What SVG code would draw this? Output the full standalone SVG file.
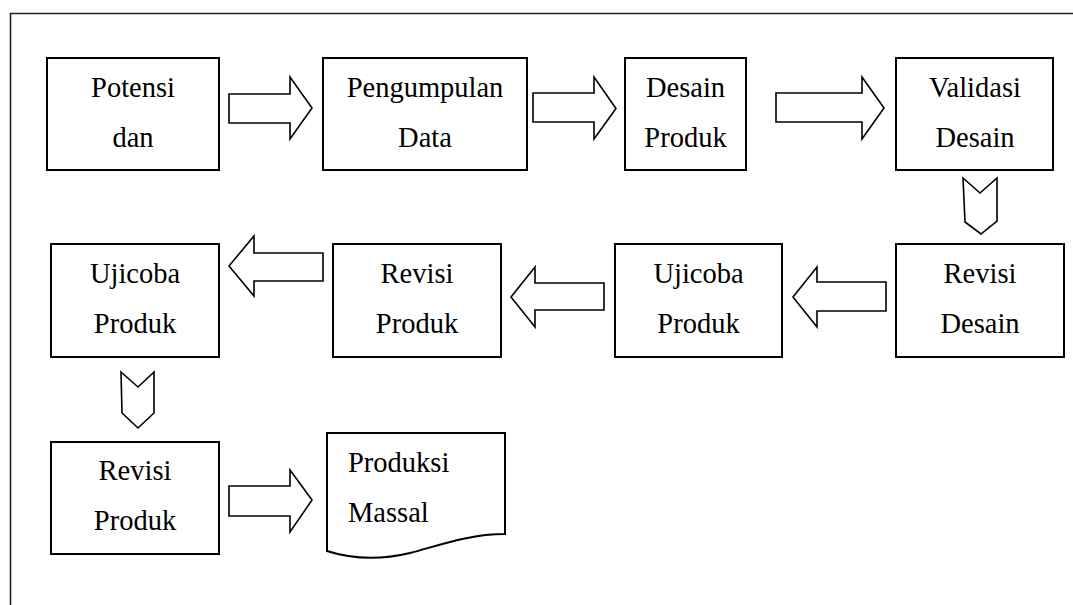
<svg xmlns="http://www.w3.org/2000/svg" width="1073" height="605" viewBox="0 0 1073 605">
<style>
.box{fill:#fff;stroke:#000;stroke-width:2}
.arr{fill:#fff;stroke:#000;stroke-width:1.6;stroke-linejoin:miter}
.frame{fill:none;stroke:#222;stroke-width:1.6}
.t{font-family:'Liberation Serif','Times New Roman',serif;font-size:28.5px;fill:#000}
.c{text-anchor:middle}
</style>
<rect width="1073" height="605" fill="#fff"/>
<path class="frame" d="M10.5,605 V13.5 H1073"/>
<g id="n1"><rect class="box" x="47" y="58" width="172" height="112"/><text class="t c" x="133" y="97">Potensi</text><text class="t c" x="133" y="147">dan</text></g>
<g id="n2"><rect class="box" x="323" y="58" width="204" height="112"/><text class="t c" x="425" y="97">Pengumpulan</text><text class="t c" x="425" y="147">Data</text></g>
<g id="n3"><rect class="box" x="625" y="58" width="121" height="112"/><text class="t c" x="685.5" y="97">Desain</text><text class="t c" x="685.5" y="147">Produk</text></g>
<g id="n4"><rect class="box" x="896" y="58" width="157" height="112"/><text class="t c" x="975" y="97">Validasi</text><text class="t c" x="975" y="147">Desain</text></g>
<g id="n5"><rect class="box" x="896" y="244" width="168" height="113"/><text class="t c" x="980" y="283">Revisi</text><text class="t c" x="980" y="333">Desain</text></g>
<g id="n6"><rect class="box" x="615" y="244" width="167" height="113"/><text class="t c" x="698.5" y="283">Ujicoba</text><text class="t c" x="698.5" y="333">Produk</text></g>
<g id="n7"><rect class="box" x="333" y="244" width="168" height="113"/><text class="t c" x="417" y="283">Revisi</text><text class="t c" x="417" y="333">Produk</text></g>
<g id="n8"><rect class="box" x="51" y="244" width="168" height="113"/><text class="t c" x="135" y="283">Ujicoba</text><text class="t c" x="135" y="333">Produk</text></g>
<g id="n9"><rect class="box" x="51" y="442" width="168" height="112"/><text class="t c" x="135" y="480">Revisi</text><text class="t c" x="135" y="530">Produk</text></g>
<g id="n10"><path class="box" d="M327,433 H505 V534 C470,534 440,545 410,553 C385,559 355,560 327,551 Z"/><text class="t" x="348" y="472">Produksi</text><text class="t" x="348" y="522">Massal</text></g>
<g id="connectors">
<path class="arr" d="M229,94 H290 V77 L312,108 L290,139 V123 H229 Z"/>
<path class="arr" d="M533,93 H594 V77 L616,108.5 L594,139 V122 H533 Z"/>
<path class="arr" d="M776,93 H862 V77 L884,108 L862,139 V122 H776 Z"/>
<path class="arr" d="M963,178 L980,193 L997,178 V221 L981,234 L965,222 Z"/>
<path class="arr" d="M886,282 H817 V267 L793,297 L817,327 V311 H886 Z"/>
<path class="arr" d="M604,283 H535 V267 L511,297 L535,327 V310 H604 Z"/>
<path class="arr" d="M323,253 H254 V236 L229,266 L254,296 V281 H323 Z"/>
<path class="arr" d="M121,372 L138,387 L154,372 V413 L138,428 L122,413 Z"/>
<path class="arr" d="M229,486 H290 V470 L312,500 L290,532 V516 H229 Z"/>
</g>
</svg>
